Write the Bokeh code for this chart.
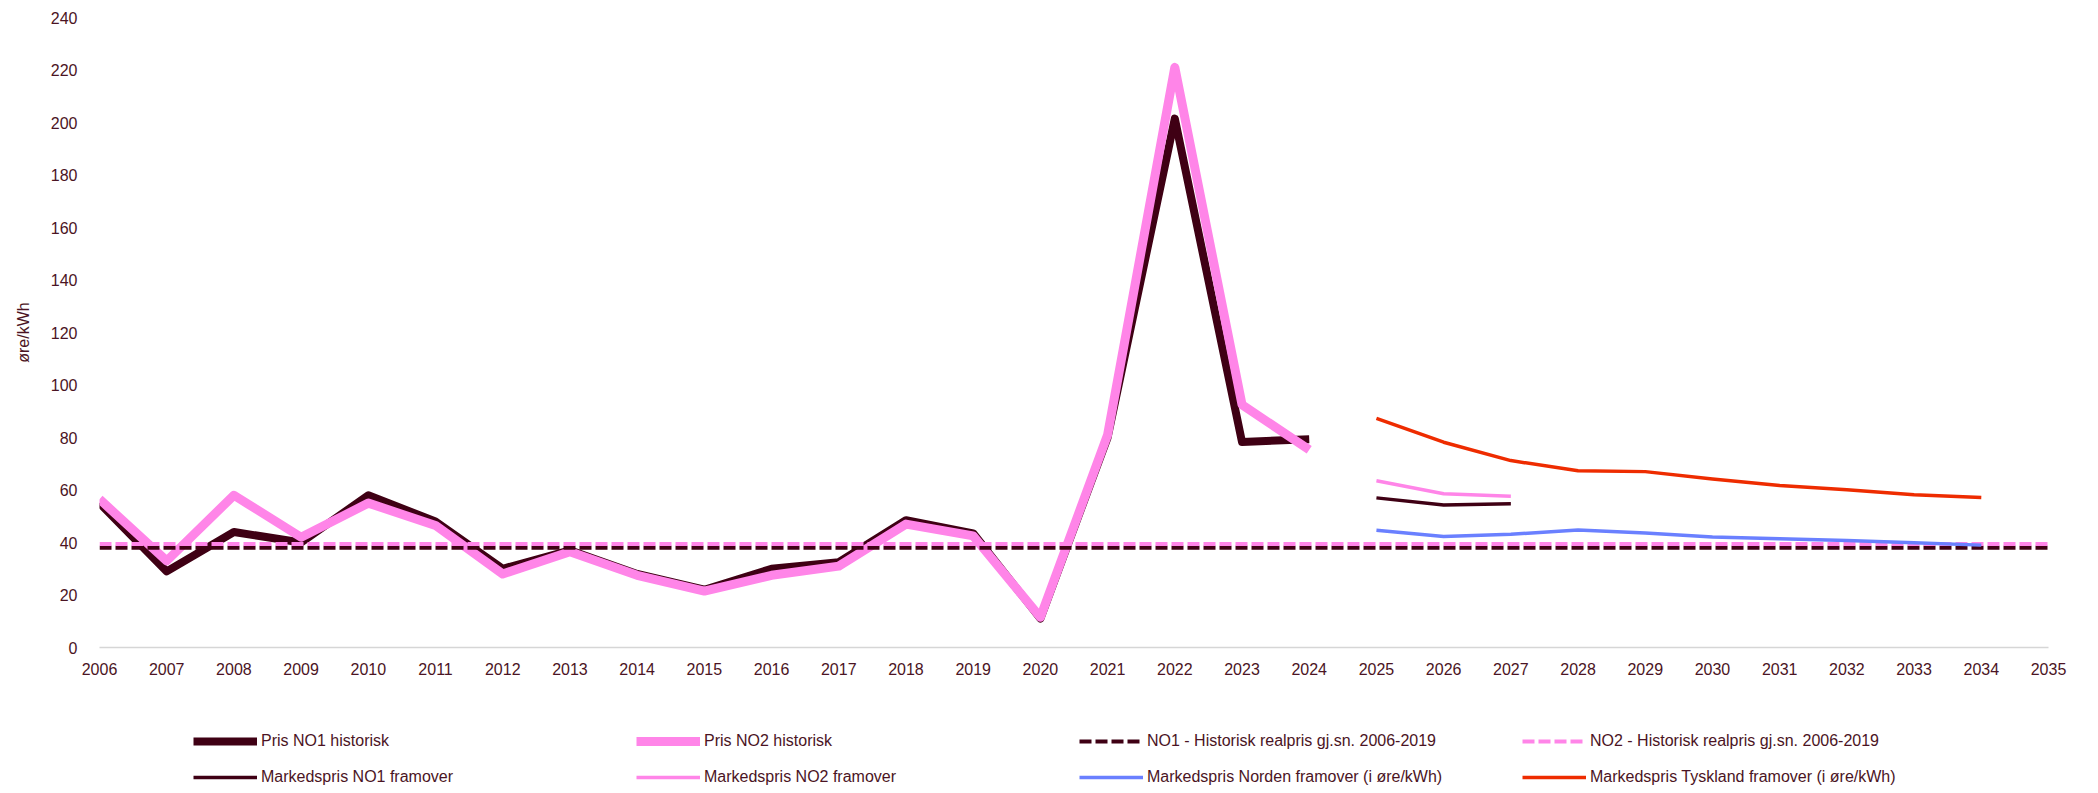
from bokeh.plotting import figure
from bokeh.layouts import column
from bokeh.models import Range1d, FixedTicker, Legend, LegendItem
from bokeh.embed import file_html
from bokeh.resources import INLINE

# ---- data ----
years_all = list(range(2006, 2036))
years_hist = list(range(2006, 2025))
no1_hist = [55, 29, 44, 40, 58, 48, 30, 37, 28, 22, 30, 32.5, 48.5, 43.5, 11, 80, 201.5, 78.3, 79.3]
no2_hist = [56.5, 33, 58, 42, 55, 46.5, 28, 36.5, 27.5, 21.5, 27.5, 31, 47, 42.5, 11.5, 81, 221, 92.5, 75.3]
no1_avg = 38.0
no2_avg = 39.4
years_fwd = [2025, 2026, 2027]
no1_fwd = [57, 54.3, 54.8]
no2_fwd = [63.5, 58.6, 57.6]
years_long = list(range(2025, 2035))
norden_fwd = [44.7, 42.3, 43.1, 44.8, 43.6, 42.1, 41.4, 40.8, 39.9, 39.0]
tyskland_fwd = [87.3, 78.2, 71.2, 67.3, 67.0, 64.2, 61.7, 60.1, 58.2, 57.1]
y_ticks = list(range(0, 241, 20))

labels = [
    "Pris NO1 historisk",
    "Pris NO2 historisk",
    "NO1 - Historisk realpris gj.sn. 2006-2019",
    "NO2 - Historisk realpris gj.sn. 2006-2019",
    "Markedspris NO1 framover",
    "Markedspris NO2 framover",
    "Markedspris Norden framover (i øre/kWh)",
    "Markedspris Tyskland framover (i øre/kWh)",
]

DARK = "#3F0014"
PINK = "#FF85E8"
BLUE = "#6A80FF"
RED = "#EE2C00"
TEXT = "#4B1424"
FONT = "Liberation Sans"

styles = [
    dict(line_color=DARK, line_width=8, line_join="round"),
    dict(line_color=PINK, line_width=9, line_join="round"),
    dict(line_color=DARK, line_width=4, line_dash="12 4"),
    dict(line_color=PINK, line_width=4, line_dash="12 4"),
    dict(line_color=DARK, line_width=3.5, line_join="round"),
    dict(line_color=PINK, line_width=3.5, line_join="round"),
    dict(line_color=BLUE, line_width=3.5, line_join="round"),
    dict(line_color=RED, line_width=3.5, line_join="round"),
]

p = figure(
    width=2082, height=690,
    x_range=Range1d(years_all[0], years_all[-1]),
    y_range=Range1d(y_ticks[0], y_ticks[-1]),
    output_backend="svg", toolbar_location=None,
    min_border_left=99, min_border_right=34, min_border_top=17, min_border_bottom=43,
)
p.outline_line_color = None
p.xgrid.grid_line_color = None
p.ygrid.grid_line_color = None

span_x = [years_all[0], years_all[-1]]
p.line(years_hist, no1_hist, **styles[0])
p.line(years_hist, no2_hist, **styles[1])
p.line(span_x, [no1_avg, no1_avg], **styles[2])
p.line(span_x, [no2_avg, no2_avg], **styles[3])
p.line(years_fwd, no1_fwd, **styles[4])
p.line(years_fwd, no2_fwd, **styles[5])
p.line(years_long, norden_fwd, **styles[6])
p.line(years_long, tyskland_fwd, **styles[7])

# axes
xa = p.xaxis[0]
xa.ticker = FixedTicker(ticks=years_all)
xa.axis_line_color = "#D6D6D6"
xa.axis_line_width = 1.5
xa.major_tick_line_color = None
xa.minor_tick_line_color = None
xa.major_label_standoff = 9
xa.major_label_text_font = FONT
xa.major_label_text_font_size = "16px"
xa.major_label_text_color = TEXT

ya = p.yaxis[0]
ya.ticker = FixedTicker(ticks=y_ticks)
ya.axis_line_color = None
ya.major_tick_line_color = None
ya.minor_tick_line_color = None
ya.major_label_standoff = 16
ya.major_label_text_font = FONT
ya.major_label_text_font_size = "16px"
ya.major_label_text_color = TEXT
ya.axis_label = "øre/kWh"
ya.axis_label_text_font = FONT
ya.axis_label_text_font_size = "16px"
ya.axis_label_text_font_style = "normal"
ya.axis_label_text_color = TEXT
ya.axis_label_standoff = 16

# ---- legend strip (swatch-only renderers, no visible data) ----
leg = figure(
    width=2082, height=95,
    x_range=Range1d(0, 1), y_range=Range1d(0, 1),
    output_backend="svg", toolbar_location=None,
    x_axis_location=None, y_axis_location=None,
    min_border_left=0, min_border_right=0, min_border_top=0, min_border_bottom=0,
)
leg.outline_line_color = None
leg.xgrid.grid_line_color = None
leg.ygrid.grid_line_color = None
nan = float("nan")
leg_renderers = [leg.line([nan], [nan], **s) for s in styles]

legend = Legend(
    items=[LegendItem(label=l, renderers=[r]) for l, r in zip(labels, leg_renderers)],
    orientation="horizontal", ncols=4,
    location=(94, -2),
    glyph_width=64, glyph_height=20, label_height=20, label_width=359,
    label_standoff=4, spacing=16, padding=0, margin=0,
    border_line_color=None, background_fill_alpha=0,
    label_text_font=FONT, label_text_font_size="16px", label_text_color=TEXT,
)
leg.add_layout(legend, "center")

layout = column(p, leg, spacing=0)
open("out.html", "w").write(file_html(layout, INLINE))
